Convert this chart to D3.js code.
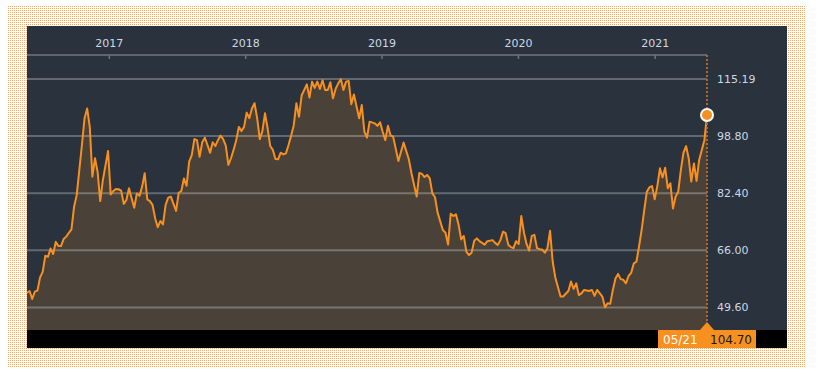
<!DOCTYPE html>
<html><head><meta charset="utf-8">
<script src="https://cdn.jsdelivr.net/npm/d3@7"></script>
<style>html,body{margin:0;padding:0;background:#fff;} svg{display:block;}</style>
</head><body><svg id="chart" width="818" height="376"></svg>
<script>
const startDate = "2016-05-27";
const weekOffsets = [0,1,2,3,4,5,6,7,8,9,10,11,12,13,14,15,16,17,18,19,20,21,22,23,24,25,26,27,28,29,31,32,33,34,35,36,37,38,39,40,41,42,43,44,45,46,47,48,49,50,51,52,53,54,55,57,58,59,60,61,62,63,64,65,66,67,68,69,70,71,72,73,74,75,76,77,78,79,80,81,82,83,84,85,86,87,88,89,90,91,92,93,94,95,96,97,98,99,100,101,102,103,104,105,107,108,109,110,111,112,113,114,115,116,117,118,119,120,121,122,123,124,125,127,128,129,130,131,133,134,135,136,137,138,139,140,142,144,146,147,149,150,151,152,153,154,155,156,157,159,160,161,162,163,164,165,166,167,168,169,170,171,172,173,175,176,178,179,180,181,182,183,184,185,186,187,188,189,190,191,192,193,194,195,196,197,198,199,200,201,202,204,205,207,208,209,210,211,212,213,215,216,217,218,220,221,222,223,224,225,226,227,228,229,230,231,232,233,234,235,236,237,238,239,240,241,242,243,244,245,246,247,248,249,250,251,252,253,254,255,256,257,259,260];
const values = [53.7,54.2,51.9,54.0,54.3,58.1,59.7,64.3,64.0,66.4,64.8,68.3,67.1,67.1,69.1,69.8,70.9,71.9,78.4,81.7,88.9,96.1,103.8,106.6,101.3,87.0,92.3,88.4,80.0,86.0,94.4,81.9,82.9,83.5,83.4,83.0,79.2,80.3,83.7,80.8,78.1,82.2,81.5,84.1,88.0,80.5,80.0,78.9,75.1,72.5,74.3,73.3,78.9,81.0,81.3,77.2,82.4,82.9,86.5,84.4,91.3,93.2,97.8,97.5,92.7,96.9,98.2,96.1,93.9,96.9,95.8,97.5,98.8,97.8,95.9,90.4,92.3,94.7,97.5,101.3,100.1,101.3,105.4,103.8,106.6,108.1,103.8,97.8,100.1,105.2,100.9,95.8,94.7,92.1,92.0,93.9,93.4,93.7,96.1,98.8,101.8,108.1,104.2,110.3,113.5,109.7,114.3,112.5,114.3,112.2,114.7,111.9,111.9,114.1,109.5,112.2,113.8,115.0,111.9,114.3,114.5,107.8,110.6,103.8,107.6,99.9,98.2,102.8,102.3,101.6,102.6,99.9,97.5,101.6,98.9,98.5,91.5,96.8,92.0,88.0,81.3,88.1,87.8,86.9,87.5,86.5,82.2,81.1,76.7,71.7,70.9,67.5,76.4,75.7,76.2,73.3,69.0,70.0,65.5,64.5,65.2,68.6,69.3,68.5,67.5,68.5,68.8,68.0,67.4,68.8,71.2,70.8,67.5,66.8,66.5,68.5,67.7,75.7,71.0,67.7,65.8,70.0,70.3,66.5,66.2,66.1,65.2,66.5,71.5,62.6,58.1,52.6,52.6,54.2,56.9,54.8,56.4,53.0,53.5,54.5,54.2,54.5,52.8,54.5,52.6,49.5,50.7,50.5,54.5,57.8,59.1,57.6,57.4,56.4,58.5,59.4,62.1,62.6,66.9,71.7,77.4,82.7,84.0,84.3,80.5,84.3,89.4,86.8,89.6,83.7,85.1,77.9,81.3,82.7,88.9,93.9,95.8,92.3,85.6,90.8,85.8,91.8,97.5,104.7];
const yearTicks = ["2017","2018","2019","2020","2021"];
const valueTicks = [49.60, 66.00, 82.40, 98.80, 115.19];
const lastDateLabel = "05/21";
const lastValueLabel = "104.70";

(function () {
const parse = d3.utcParse("%Y-%m-%d");
const t0 = parse(startDate);
const data = weekOffsets.map((w, i) => ({ date: d3.utcDay.offset(t0, w * 7), value: values[i] }));
const last = data[data.length - 1];

const svg = d3.select("#chart");
const defs = svg.append("defs");
const pat = defs.append("pattern").attr("id", "dots").attr("width", 2).attr("height", 2)
  .attr("patternUnits", "userSpaceOnUse");
pat.append("rect").attr("width", 1).attr("height", 1).attr("fill", "#f3a967");

svg.append("rect").attr("x", 7).attr("y", 6).attr("width", 799).attr("height", 361).attr("fill", "url(#dots)");
svg.append("rect").attr("x", 27).attr("y", 26).attr("width", 760).attr("height", 322).attr("fill", "#29323d");

const pLeft = 27, pRight = 707, pTop = 55, pBottom = 330;
const x = d3.scaleUtc().domain([t0, last.date]).range([pLeft, pRight]);
const y = d3.scaleLinear().domain([42.998, 121.94]).range([pBottom, pTop]);

const area = d3.area().x(d => x(d.date)).y0(pBottom).y1(d => y(d.value));
svg.append("path").datum(data).attr("d", area).attr("fill", "#4a4239");

const yAxis = d3.axisRight(y).tickValues(valueTicks).tickSize(-(pRight - pLeft)).tickFormat(d3.format(".2f"));
const gy = svg.append("g").attr("transform", `translate(${pRight},0)`).call(yAxis);
gy.select(".domain").remove();
gy.selectAll(".tick line").attr("stroke", "rgba(255,255,255,0.27)").attr("stroke-width", 2);
gy.selectAll(".tick text").attr("x", 10).attr("fill", "#cdd8e3")
  .attr("font-family", "DejaVu Sans, Verdana, sans-serif").attr("font-size", 11);

const yearDates = yearTicks.map(s => parse(s + "-01-01"));
const xAxis = d3.axisTop(x).tickValues(yearDates).tickSize(-4).tickFormat((d, i) => yearTicks[i]);
const gx = svg.append("g").attr("transform", `translate(0,${pTop})`).call(xAxis);
gx.select(".domain").attr("stroke", "#5f656c").attr("stroke-width", 2).attr("d", `M${pLeft},0H${pRight}`);
gx.selectAll(".tick line").attr("stroke", "#6d737a").attr("stroke-width", 1.5);
gx.selectAll(".tick text").attr("y", -8).attr("fill", "#cdd8e3")
  .attr("font-family", "DejaVu Sans, Verdana, sans-serif").attr("font-size", 11);

const line = d3.line().x(d => x(d.date)).y(d => y(d.value));
svg.append("path").datum(data).attr("d", line).attr("fill", "none")
  .attr("stroke", "#f7901e").attr("stroke-width", 2).attr("stroke-linejoin", "round");

svg.append("rect").attr("x", 27).attr("y", pBottom).attr("width", 760).attr("height", 18).attr("fill", "#000");

const lx = x(last.date);
svg.append("line").attr("x1", lx).attr("x2", lx).attr("y1", pTop).attr("y2", pBottom - 8)
  .attr("stroke", "#b0672a").attr("stroke-width", 2).attr("stroke-dasharray", "2,2");

svg.append("rect").attr("x", lx - 49).attr("y", pBottom).attr("width", 98).attr("height", 18).attr("fill", "#f7901e");
svg.append("path").attr("d", `M${lx - 7},${pBottom}L${lx},${pBottom - 8}L${lx + 7},${pBottom}Z`).attr("fill", "#f7901e");
svg.append("text").attr("x", lx - 44).attr("y", pBottom + 14).text(lastDateLabel)
  .attr("fill", "#fff").attr("font-family", "DejaVu Sans, Verdana, sans-serif").attr("font-size", 12);
svg.append("text").attr("x", lx + 3).attr("y", pBottom + 14).text(lastValueLabel)
  .attr("fill", "#1a1a1a").attr("font-family", "DejaVu Sans, Verdana, sans-serif").attr("font-size", 12);

svg.append("circle").attr("cx", lx).attr("cy", y(last.value)).attr("r", 6)
  .attr("fill", "#f7901e").attr("stroke", "#fff").attr("stroke-width", 2);
})();
</script></body></html>
